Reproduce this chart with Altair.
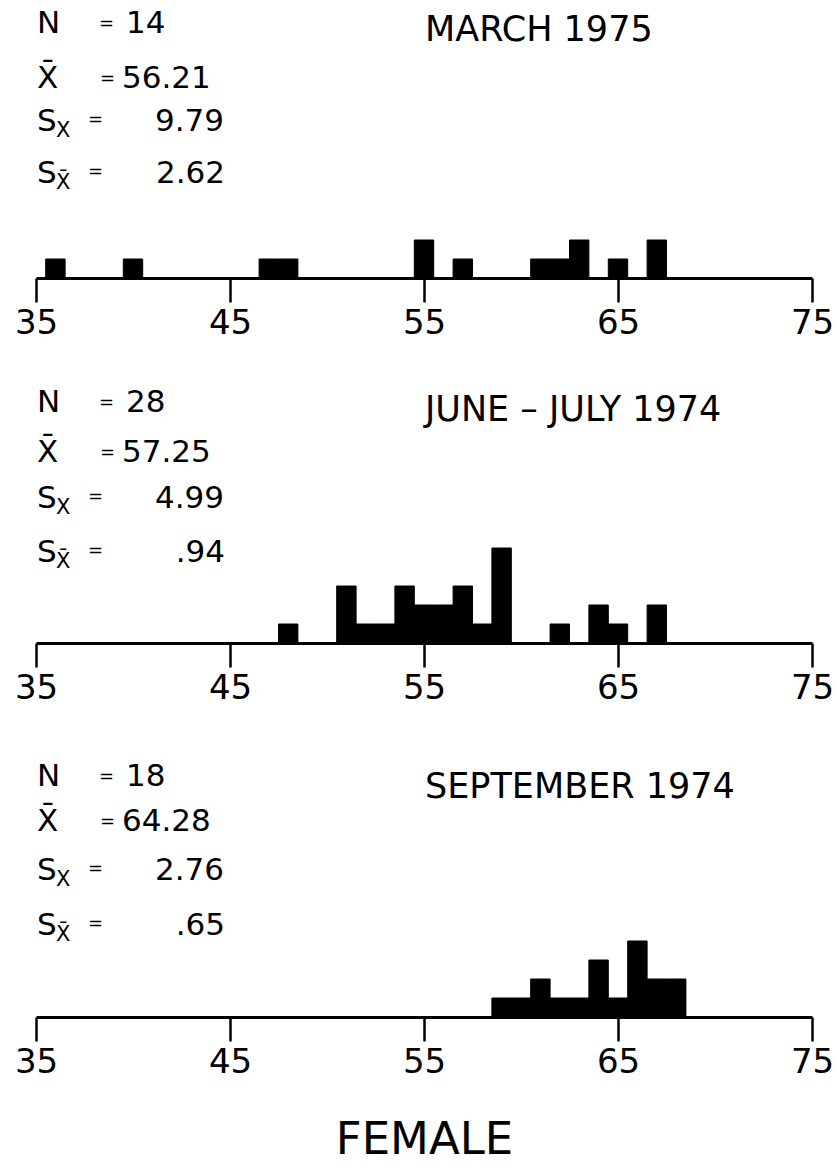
import altair as alt
import pandas as pd

FONT = "DejaVu Sans"
INK = "#000000"

# Length classes (centre of each 1-unit class) and number of females in each
mar_len = [36, 40, 47, 48, 55, 57, 61, 62, 63, 65, 67]
mar_cnt = [1, 1, 1, 1, 2, 1, 1, 1, 2, 1, 2]

jun_len = [48, 51, 52, 53, 54, 55, 56, 57, 58, 59, 62, 64, 65, 67]
jun_cnt = [1, 3, 1, 1, 3, 2, 2, 3, 1, 5, 1, 2, 1, 2]

sep_len = [59, 60, 61, 62, 63, 64, 65, 66, 67, 68]
sep_cnt = [1, 1, 2, 1, 1, 3, 1, 4, 2, 2]

titles = ["MARCH 1975", "JUNE – JULY 1974", "SEPTEMBER 1974"]
n_vals = ["14", "28", "18"]
mean_vals = ["56.21", "57.25", "64.28"]
sd_vals = ["9.79", "4.99", "2.76"]
se_vals = ["2.62", ".94", ".65"]
tick_vals = [35, 45, 55, 65, 75]

UNIT = 19.0      # pixels per fish
WIDTH = 776
STAT_SIZE = 31


def label(text, x, y, size=STAT_SIZE, align="left"):
    return (
        alt.Chart(alt.Data(values=[{}]))
        .mark_text(text=text, font=FONT, fontSize=size, color=INK,
                   align=align, baseline="middle")
        .encode(x=alt.value(x), y=alt.value(y))
    )


def panel(i, lengths, counts, height, rows, title_dy, axis_title=None):
    df = pd.DataFrame({"len": lengths, "n": counts})
    axis_kw = dict(
        values=tick_vals, format="d", grid=False,
        labelFont=FONT, labelFontSize=34, labelColor=INK, labelPadding=4,
        labelFlush=False,
        tickColor=INK, tickSize=24, tickWidth=2.5,
        domainColor=INK, domainWidth=3,
    )
    if axis_title:
        axis_kw.update(title=axis_title, titleFont=FONT, titleFontSize=45,
                       titleFontWeight="normal", titleColor=INK, titlePadding=38)
    else:
        axis_kw.update(title=None)

    bars = (
        alt.Chart(df)
        .transform_calculate(lo="datum.len - 0.5", hi="datum.len + 0.5")
        .mark_rect(color=INK, stroke=INK, strokeWidth=1)
        .encode(
            x=alt.X("lo:Q", scale=alt.Scale(domain=[35, 75], nice=False, zero=False),
                    axis=alt.Axis(**axis_kw)),
            x2="hi:Q",
            y=alt.Y("n:Q", scale=alt.Scale(domain=[0, height / UNIT], nice=False),
                    axis=None),
            y2=alt.datum(0),
        )
    )

    r_n, r_mean, r_sd, r_se = [height + d for d in rows]
    texts = [
        label("N", 1, r_n),
        label("=", 63, r_n, size=18),
        label(n_vals[i], 90, r_n),
        label("X\u0304", 1, r_mean),
        label("=", 64, r_mean, size=18),
        label(mean_vals[i], 86, r_mean),
        label("S", 1, r_sd),
        label("X", 20, r_sd + 9, size=21),
        label("=", 52, r_sd - 2, size=18),
        label(sd_vals[i], 188, r_sd, align="right"),
        label("S", 1, r_se),
        label("X\u0304", 20, r_se + 9, size=21),
        label("=", 52, r_se - 2, size=18),
        label(se_vals[i], 189, r_se, align="right"),
        label(titles[i], 389, height + title_dy, size=35),
    ]
    return alt.layer(bars, *texts).properties(width=WIDTH, height=height)


p1 = panel(0, mar_len, mar_cnt, 278, [-254, -199, -156, -104], -248)
p2 = panel(1, jun_len, jun_cnt, 283, [-240, -190, -144, -90], -233)
p3 = panel(2, sep_len, sep_cnt, 292, [-240, -195, -146, -91], -230,
           axis_title="FEMALE")

chart = (
    alt.vconcat(p1, p2, p3, spacing=20)
    .properties(padding={"left": 14, "right": 0, "top": 0, "bottom": 10},
                background="white")
    .configure_view(stroke=None)
)

chart.save("out.html", embed_options={"renderer": "svg", "actions": False})
